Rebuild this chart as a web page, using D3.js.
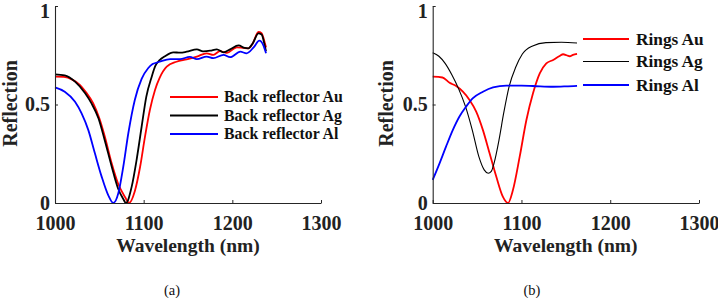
<!DOCTYPE html>
<html>
<head>
<meta charset="utf-8">
<script src="https://cdn.jsdelivr.net/npm/d3@7"></script>
<style>
  html, body { margin: 0; padding: 0; background: #fff; }
  svg { display: block; }
</style>
</head>
<body>
<svg id="chart" width="718" height="298"></svg>
<script>
// ---------- DATA ----------
const xTicks = [1000, 1100, 1200, 1300];
const yTicks = [0, 0.5, 1];
const yTickLabels = ["0", "0.5", "1"];

const legendA = ["Back reflector Au", "Back reflector Ag", "Back reflector Al"];
const legendB = ["Rings Au", "Rings Ag", "Rings Al"];
const seriesColors = ["#ff0000", "#000000", "#0000ff"];

// Panel (a): [wavelength nm, reflection]
const backAu = [[1000,0.641],[1010,0.640],[1020,0.625],[1028,0.600],[1035,0.562],[1043,0.507],[1050,0.430],[1056,0.340],[1064,0.200],[1071,0.100],[1079,0.030],[1083.5,0],[1090,0.060],[1096,0.184],[1101.5,0.337],[1107,0.472],[1112.8,0.574],[1118,0.635],[1126,0.692],[1137,0.717],[1148.5,0.729],[1160,0.743],[1171,0.760],[1178.6,0.752],[1186,0.771],[1193.7,0.762],[1205,0.790],[1212.6,0.787],[1218,0.785],[1223,0.810],[1229.4,0.868],[1233,0.862],[1236.5,0.815],[1238,0.790]];
const backAg = [[1000,0.653],[1011,0.648],[1022.6,0.616],[1034,0.557],[1041,0.507],[1049,0.430],[1056,0.320],[1064,0.184],[1071,0.075],[1077,0.020],[1080,0],[1086.5,0.083],[1092,0.218],[1097.7,0.387],[1103,0.540],[1109,0.640],[1113,0.695],[1118,0.725],[1124,0.745],[1133.5,0.765],[1141,0.763],[1148.5,0.768],[1160,0.780],[1167,0.770],[1175,0.773],[1182.5,0.780],[1190,0.765],[1197.5,0.780],[1207,0.800],[1214,0.787],[1218,0.785],[1223,0.810],[1229.4,0.861],[1233,0.855],[1236.5,0.800],[1238,0.770]];
const backAl = [[1000,0.587],[1011,0.565],[1022.6,0.514],[1030,0.455],[1037.6,0.370],[1045,0.252],[1052.6,0.134],[1060,0.040],[1065.8,0],[1071.4,0.050],[1077,0.184],[1082.7,0.354],[1090,0.523],[1097.7,0.630],[1105,0.684],[1110,0.705],[1118,0.717],[1130,0.730],[1141,0.730],[1152,0.742],[1160,0.730],[1171,0.743],[1178.6,0.735],[1190,0.752],[1197.5,0.740],[1209,0.768],[1216,0.760],[1224,0.790],[1230.5,0.824],[1235,0.800],[1238,0.760]];

// Panel (b)
const ringsAu = [[1000,0.641],[1011,0.637],[1019,0.610],[1026,0.595],[1034,0.565],[1041.5,0.523],[1049,0.464],[1056.6,0.370],[1064,0.254],[1071.6,0.134],[1079,0.032],[1084.8,0],[1090.4,0.066],[1098,0.235],[1105.5,0.420],[1113,0.557],[1120.6,0.658],[1128,0.709],[1135.7,0.726],[1143,0.746],[1147,0.755],[1150.8,0.750],[1154.5,0.745],[1158,0.752],[1162.6,0.757]];
const ringsAg = [[1000,0.763],[1007,0.745],[1014,0.709],[1021.7,0.650],[1029,0.582],[1037,0.489],[1044.6,0.370],[1052,0.235],[1058,0.168],[1062.6,0.151],[1066,0.160],[1069,0.200],[1074.7,0.320],[1080,0.457],[1086,0.590],[1093.6,0.690],[1101,0.756],[1112.6,0.797],[1127.6,0.814],[1145,0.816],[1162.6,0.812]];
const ringsAl = [[1000,0.117],[1007.6,0.200],[1015,0.286],[1022.6,0.370],[1030,0.438],[1037.6,0.489],[1045,0.531],[1056.6,0.565],[1068,0.587],[1083,0.596],[1100,0.596],[1113,0.594],[1135.7,0.590],[1150,0.592],[1162.6,0.595]];

// ---------- DRAW ----------
const svg = d3.select("#chart");
const FONT = "Liberation Serif, Times New Roman, serif";

function panel(opts) {
  const x = d3.scaleLinear().domain([1000, 1300]).range([opts.x0, opts.x1]);
  const y = d3.scaleLinear().domain([0, 1]).range([203, 6]);
  const g = svg.append("g");

  const line = d3.line().x(d => x(d[0])).y(d => y(d[1])).curve(d3.curveMonotoneX);
  opts.series.forEach((s, i) => {
    g.append("path").datum(s).attr("d", line)
      .attr("fill", "none").attr("stroke", seriesColors[i])
      .attr("stroke-width", opts.widths[i]).attr("stroke-linejoin", "round");
  });

  const xAxis = g.append("g").attr("transform", "translate(0,203)")
    .call(d3.axisBottom(x).tickValues(xTicks).tickFormat(d3.format("d"))
      .tickSizeInner(-3).tickSizeOuter(0).tickPadding(12.5));
  const yAxis = g.append("g").attr("transform", `translate(${opts.x0},0)`)
    .call(d3.axisLeft(y).tickValues(yTicks).tickFormat((d, i) => yTickLabels[i])
      .tickSizeInner(-3).tickSizeOuter(0).tickPadding(5));
  [xAxis, yAxis].forEach(a => {
    a.attr("font-family", FONT);
    a.select(".domain").attr("stroke", "#262626").attr("stroke-width", 1.1);
    a.selectAll(".tick line").attr("stroke", "#262626");
    a.selectAll("text").attr("font-family", FONT).attr("font-size", 20)
      .attr("font-weight", "bold").attr("fill", "#222");
  });
  // top label sits slightly below the axis end, as in the reference
  yAxis.selectAll(".tick text").filter(d => d === 1).attr("dy", "0.55em");

  g.append("text").attr("x", (opts.x0 + opts.x1) / 2).attr("y", 251.5)
    .attr("text-anchor", "middle").attr("font-family", FONT).attr("font-size", 19.5)
    .attr("font-weight", "bold").attr("fill", "#222").text("Wavelength (nm)");
  g.append("text").attr("transform", `translate(${opts.ylabX},103.5) rotate(-90)`)
    .attr("text-anchor", "middle").attr("font-family", FONT).attr("font-size", 20)
    .attr("font-weight", "bold").attr("fill", "#222").text("Reflection");

  // legend
  opts.legend.forEach((name, i) => {
    const ly = opts.legY[i];
    g.append("line").attr("x1", opts.legX0).attr("x2", opts.legX1)
      .attr("y1", ly).attr("y2", ly).attr("stroke", seriesColors[i])
      .attr("stroke-width", opts.widths[i]);
    g.append("text").attr("x", opts.legTx).attr("y", ly).attr("dy", "0.33em")
      .attr("font-family", FONT).attr("font-size", opts.legFont)
      .attr("font-weight", "bold").attr("fill", "#111").text(name);
  });

  g.append("text").attr("x", opts.capX).attr("y", 295).attr("text-anchor", "middle")
    .attr("font-family", FONT).attr("font-size", 14.5).attr("fill", "#111").text(opts.caption);
}

panel({
  x0: 55, x1: 321, series: [backAu, backAg, backAl], widths: [1.8, 1.8, 1.8],
  legend: legendA, legY: [97, 115.5, 134], legX0: 170, legX1: 218, legTx: 224, legFont: 15.8,
  ylabX: 16.5, capX: 172, caption: "(a)"
});
panel({
  x0: 432.7, x1: 699, series: [ringsAu, ringsAg, ringsAl], widths: [1.8, 1.1, 1.8],
  legend: legendB, legY: [39, 61.5, 85], legX0: 583, legX1: 629, legTx: 636, legFont: 17.3,
  ylabX: 393, capX: 532, caption: "(b)"
});
</script>
</body>
</html>
